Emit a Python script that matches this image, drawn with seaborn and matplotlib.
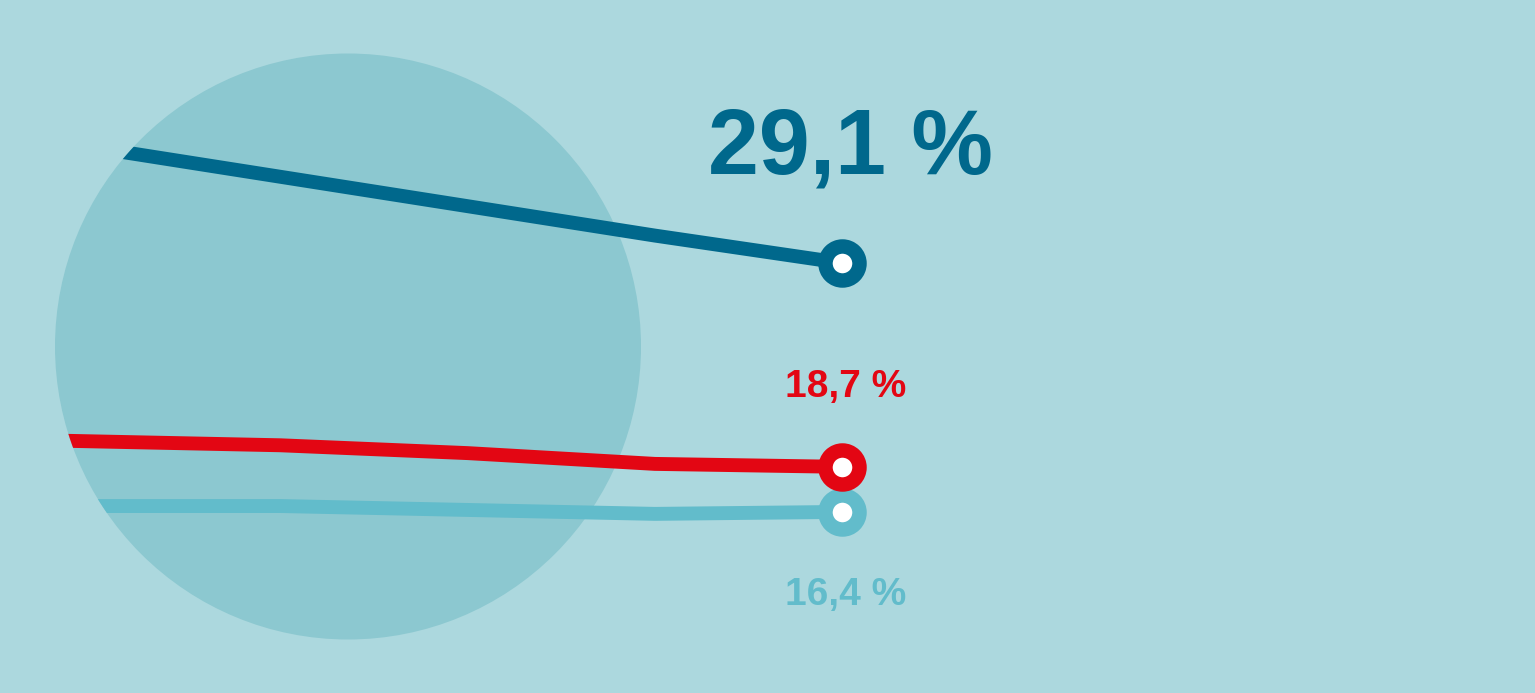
import numpy as np
import matplotlib
matplotlib.use('Agg')
import matplotlib.pyplot as plt
import seaborn as sns
from matplotlib.patches import Circle, Polygon

sns.set_theme(style="white")
plt.rcParams['font.family'] = ['Liberation Sans', 'DejaVu Sans']

# Data (positions along the time axis, share in %)
periods = [0, 1, 2, 3, 4, 5]
dark_values = [36.5, 35.0, 33.5, 32.0, 30.5, 29.1]
red_values = [20.2, 20.0, 19.8, 19.4, 18.85, 18.7]
light_values = [16.7, 16.7, 16.7, 16.5, 16.3, 16.4]
end_labels = ['29,1 %', '18,7 %', '16,4 %']

BG = '#acd8de'
CIRCLE = '#8cc8d0'
DARK = '#00688c'
RED = '#e30613'
LIGHT = '#62bccb'

fig = plt.figure(figsize=(15.35, 6.93), dpi=100, facecolor=BG)
ax = fig.add_axes([0, 0, 1, 1])
ax.set_facecolor(BG)
ax.set_xlim(0.503, 8.70)
ax.set_ylim(7.16, 42.52)
ax.axis('off')

# background disc (figure inches)
cx, cy, r = 3.48, 3.465, 2.93
ax.add_patch(Circle((cx, cy), r, transform=fig.dpi_scale_trans,
                    facecolor=CIRCLE, edgecolor='none', zorder=0))

# clip region: left half of the disc plus everything to its right
theta = np.linspace(np.pi / 2, 3 * np.pi / 2, 200)
clip_pts = np.column_stack([cx + r * np.cos(theta), cy + r * np.sin(theta)])
clip_pts = np.vstack([clip_pts, [[cx + 20, cy - r], [cx + 20, cy + r]]])
clip_poly = Polygon(clip_pts, closed=True, transform=fig.dpi_scale_trans,
                    facecolor='none', edgecolor='none')
ax.add_patch(clip_poly)

series = [(dark_values, DARK), (light_values, LIGHT), (red_values, RED)]
for values, color in series:
    sns.lineplot(x=periods, y=values, color=color, lw=10, ax=ax, zorder=2)
    line = ax.lines[-1]
    line.set_solid_joinstyle('round')
    line.set_clip_path(clip_poly)

for values, color in series:
    sns.scatterplot(x=[periods[-1]], y=[values[-1]], s=24.5 ** 2, color='white',
                    edgecolor=color, linewidth=10.4, ax=ax, zorder=3)

# value labels
ax.annotate(end_labels[0], (periods[-1], dark_values[-1]), xytext=(8, 90),
            textcoords='offset pixels', ha='center', va='baseline',
            fontsize=66, fontweight='bold', color=DARK)
ax.annotate(end_labels[1], (periods[-1], red_values[-1]), xytext=(4, 70),
            textcoords='offset pixels', ha='center', va='baseline',
            fontsize=28, fontweight='bold', color=RED)
ax.annotate(end_labels[2], (periods[-1], light_values[-1]), xytext=(4, -93),
            textcoords='offset pixels', ha='center', va='baseline',
            fontsize=28, fontweight='bold', color=LIGHT)

fig.savefig('out.png', dpi=100, facecolor=BG)
